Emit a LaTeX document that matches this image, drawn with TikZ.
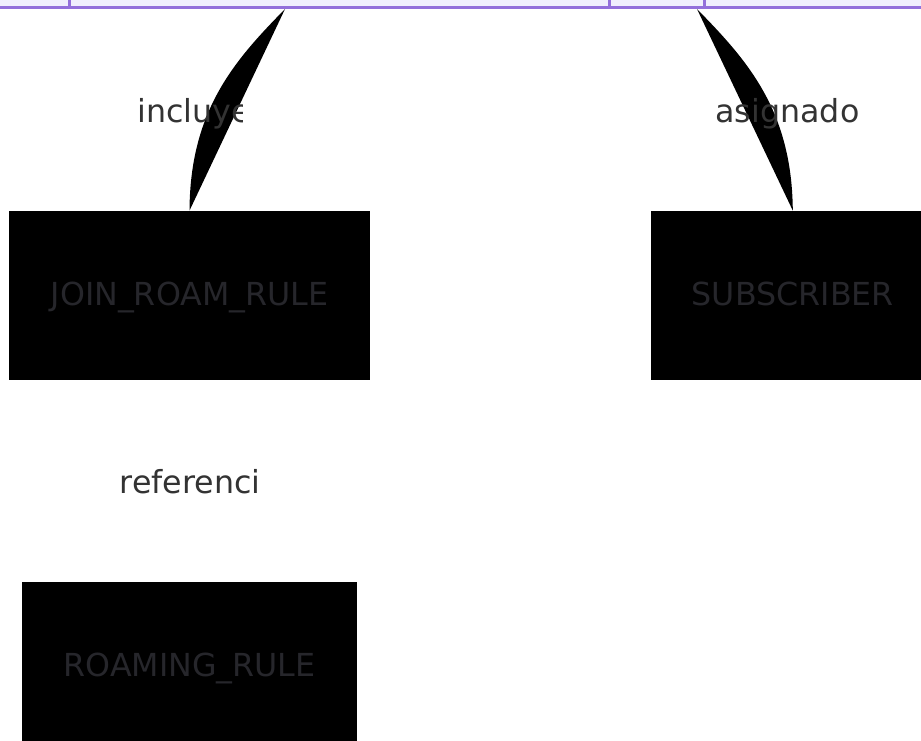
\documentclass[tikz,border=0pt]{standalone}
\usepackage{fontspec}
\setmainfont{DejaVu Sans}
\usetikzlibrary{positioning}
\definecolor{entityPurple}{HTML}{9370DB}
\definecolor{entityFill}{HTML}{F0EFFD}
\definecolor{labelGray}{HTML}{333333}
\definecolor{boxText}{HTML}{26262B}

\begin{document}
\begin{tikzpicture}[
  x=0.5pt, y=-0.5pt,
  every node/.style={font=\fontsize{15.85pt}{19pt}\selectfont},
  entitybox/.style={
    rectangle, draw=entityPurple, line width=1.5pt,
    fill=entityFill, inner sep=0pt,
    minimum width=480pt, minimum height=30pt
  },
  tablebox/.style={
    rectangle, fill=black, text=boxText,
    inner sep=0pt, minimum height=84.5pt,
    text height=11.65pt, text depth=2.15pt
  },
  rellabel/.style={text=labelGray, inner sep=0pt, anchor=base},
  relfill/.style={fill=black},
]
\useasboundingbox (0,0) rectangle (921,740);

% Entity on top (cut off)
\node[entitybox, anchor=south] (entity) at (460.5,9) {};
\foreach \cx in {69,609,704} {
  \draw[entityPurple, line width=1.5pt] (\cx,9) -- (\cx,-51);
}
\coordinate (incTop) at (285,9);
\coordinate (asgTop) at (697,9);

% Tables
\node[tablebox, minimum width=180.5pt] (join) at (189.5,295.5) {JOIN\_ROAM\_RULE};
\node[tablebox, minimum width=142pt, right=140pt of join] (sub) {SUBSCRIBER};
\node[tablebox, minimum width=167.5pt, minimum height=85.5pt, below=100.5pt of join] (roam) {ROAMING\_RULE};

% Relations
\fill[relfill] (incTop) .. controls (235,60) and (190,110) .. (join.north) -- cycle;
\fill[relfill] (asgTop) .. controls (747,60) and (792,110) .. (sub.north) -- cycle;

% Labels
\begin{scope}
  \clip (120,80) rectangle (242,140);
  \node[rellabel, anchor=base west] (inclabel) at (137,122.7) {incluye};
\end{scope}
\node[rellabel] (asglabel) at (787.5,122.7) {asignado};
\node[rellabel] (reflabel) at (190,493) {referenci};

\end{tikzpicture}
\end{document}
